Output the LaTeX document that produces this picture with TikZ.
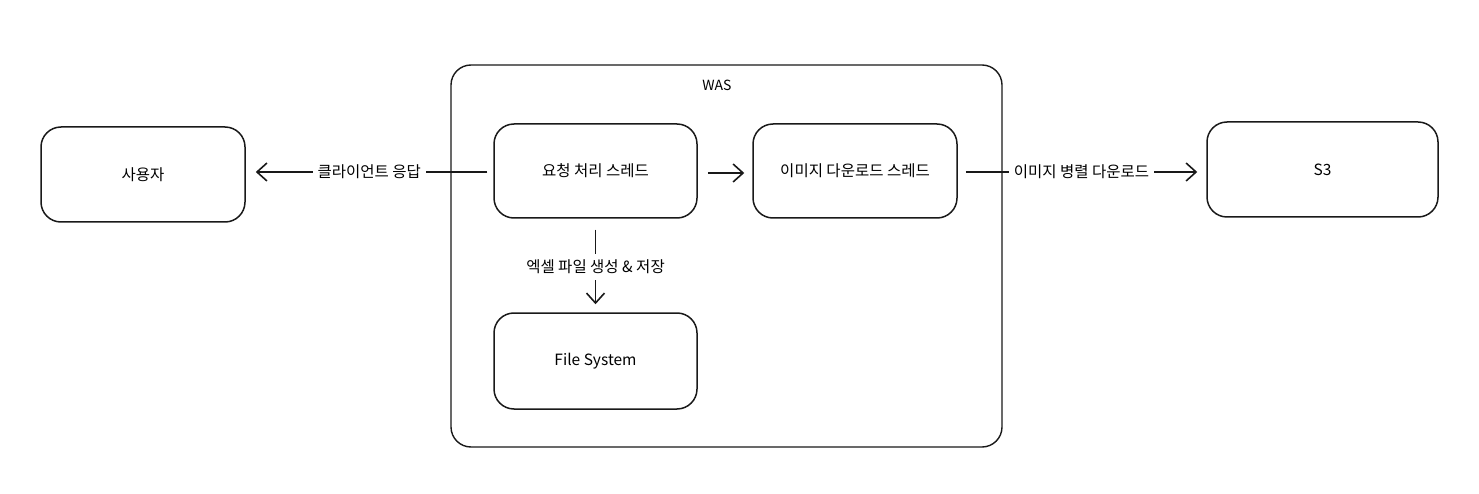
\documentclass[tikz,border=0pt]{standalone}
\usepackage{fontspec}
\setmainfont{Noto Sans CJK KR}
\usetikzlibrary{arrows.meta}
\begin{document}
\begin{tikzpicture}[x=1pt,y=-1pt,
  box/.style={draw=black!90,line width=1.5pt,rounded corners=20pt,inner sep=0pt},
  conn/.style={draw=black!90,line width=1.6pt,-{Straight Barb[length=10pt,width=18pt,line width=1.6pt]}},
  lbl/.style={fill=white,inner xsep=5pt,inner ysep=6pt,font=\fontsize{15.5}{17}\selectfont},
  txt/.style={font=\fontsize{15.5}{17}\selectfont}
]
\useasboundingbox (0,0) rectangle (1479,494);
% WAS container
\draw[box,line width=1.4pt] (451,65) rectangle (1002,447);
\node[font=\fontsize{14}{16}\selectfont\itshape] (waslbl) at (717,85) {WAS};
% boxes
\node[box,minimum width=204pt,minimum height=95pt] (user) at (143,174.5) {};
\node[txt] at (user) {사용자};
\node[box,minimum width=203pt,minimum height=94pt] (req) at (595.5,171) {};
\node[txt] at (req) {요청 처리 스레드};
\node[box,minimum width=204pt,minimum height=94pt] (img) at (855,171) {};
\node[txt] at (img) {이미지 다운로드 스레드};
\node[box,minimum width=203pt,minimum height=96pt] (fs) at (595.5,361) {};
\node[txt] at (fs) {File System};
\node[box,minimum width=231pt,minimum height=95pt] (s3) at (1322.5,169.5) {};
\node[txt] at (s3) {S3};
% connectors
\coordinate (reqL) at ([xshift=-6pt]req.west);
\draw[conn] (reqL |- 0,172) -- node[lbl,pos=0.51] {클라이언트 응답} ([xshift=10pt]user.east |- 0,172);
\draw[conn] ([xshift=10pt]req.east |- 0,173) -- ([xshift=-8pt]img.west |- 0,173);
\draw[conn] ([xshift=8pt]img.east |- 0,172) -- node[lbl,pos=0.5] {이미지 병렬 다운로드} ([xshift=-9pt]s3.west |- 0,172);
\draw[conn] ([yshift=-11pt]req.south) -- node[lbl,pos=0.5] {엑셀 파일 생성 \& 저장} ([yshift=8pt]fs.north);
\end{tikzpicture}
\end{document}
